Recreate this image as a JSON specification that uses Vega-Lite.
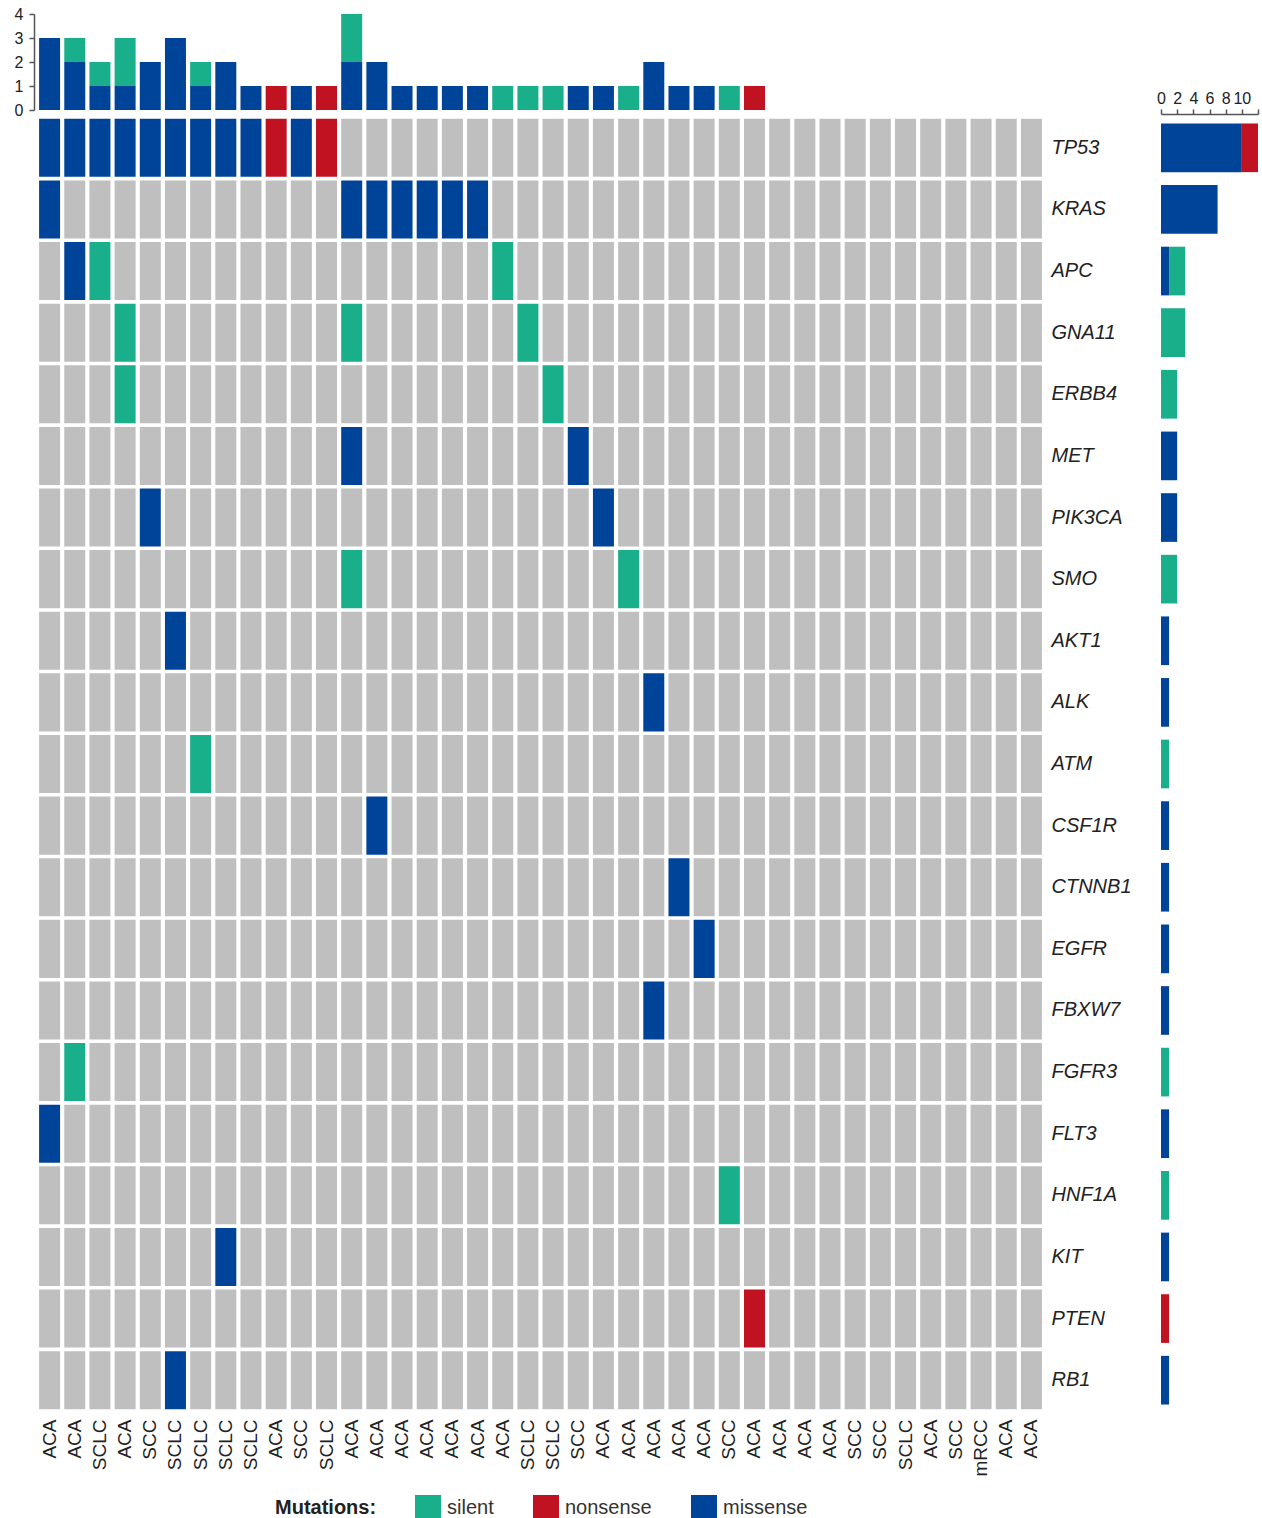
{
  "$schema": "https://vega.github.io/schema/vega-lite/v6.json",
  "padding": {"left": 14, "top": 6, "right": 5, "bottom": 5},
  "background": "white",
  "config": {
    "view": {"stroke": null},
    "font": "Liberation Sans",
    "axis": {"labelFont": "Liberation Sans", "labelColor": "#222", "domainColor": "#555", "tickColor": "#555", "grid": false, "title": null}
  },
  "data": {"values": [
    {"sample": "01 ACA", "TP53": "missense", "KRAS": "missense", "FLT3": "missense"},
    {"sample": "02 ACA", "TP53": "missense", "APC": "missense", "FGFR3": "silent"},
    {"sample": "03 SCLC", "TP53": "missense", "APC": "silent"},
    {"sample": "04 ACA", "TP53": "missense", "GNA11": "silent", "ERBB4": "silent"},
    {"sample": "05 SCC", "TP53": "missense", "PIK3CA": "missense"},
    {"sample": "06 SCLC", "TP53": "missense", "AKT1": "missense", "RB1": "missense"},
    {"sample": "07 SCLC", "TP53": "missense", "ATM": "silent"},
    {"sample": "08 SCLC", "TP53": "missense", "KIT": "missense"},
    {"sample": "09 SCLC", "TP53": "missense"},
    {"sample": "10 ACA", "TP53": "nonsense"},
    {"sample": "11 SCC", "TP53": "missense"},
    {"sample": "12 SCLC", "TP53": "nonsense"},
    {"sample": "13 ACA", "KRAS": "missense", "GNA11": "silent", "MET": "missense", "SMO": "silent"},
    {"sample": "14 ACA", "KRAS": "missense", "CSF1R": "missense"},
    {"sample": "15 ACA", "KRAS": "missense"},
    {"sample": "16 ACA", "KRAS": "missense"},
    {"sample": "17 ACA", "KRAS": "missense"},
    {"sample": "18 ACA", "KRAS": "missense"},
    {"sample": "19 ACA", "APC": "silent"},
    {"sample": "20 SCLC", "GNA11": "silent"},
    {"sample": "21 SCLC", "ERBB4": "silent"},
    {"sample": "22 SCC", "MET": "missense"},
    {"sample": "23 ACA", "PIK3CA": "missense"},
    {"sample": "24 ACA", "SMO": "silent"},
    {"sample": "25 ACA", "ALK": "missense", "FBXW7": "missense"},
    {"sample": "26 ACA", "CTNNB1": "missense"},
    {"sample": "27 ACA", "EGFR": "missense"},
    {"sample": "28 SCC", "HNF1A": "silent"},
    {"sample": "29 ACA", "PTEN": "nonsense"},
    {"sample": "30 ACA"},
    {"sample": "31 ACA"},
    {"sample": "32 ACA"},
    {"sample": "33 SCC"},
    {"sample": "34 SCC"},
    {"sample": "35 SCLC"},
    {"sample": "36 ACA"},
    {"sample": "37 SCC"},
    {"sample": "38 mRCC"},
    {"sample": "39 ACA"},
    {"sample": "40 ACA"}
  ]},
  "transform": [
    {"fold": ["TP53", "KRAS", "APC", "GNA11", "ERBB4", "MET", "PIK3CA", "SMO", "AKT1", "ALK", "ATM", "CSF1R", "CTNNB1", "EGFR", "FBXW7", "FGFR3", "FLT3", "HNF1A", "KIT", "PTEN", "RB1"], "as": ["gene", "mutation"]}
  ],
  "columns": 2,
  "bounds": "flush",
  "align": "each",
  "spacing": {"row": 7, "column": 117},
  "concat": [
    {
      "width": 1007,
      "height": 96,
      "mark": {"type": "bar"},
      "encoding": {
        "x": {"field": "sample", "type": "ordinal", "axis": null, "scale": {"paddingInner": 0.166, "paddingOuter": 0.083}},
        "y": {"aggregate": "valid", "field": "mutation", "type": "quantitative", "scale": {"domain": [0, 4], "nice": false},
              "axis": {"values": [0, 1, 2, 3, 4], "labelFontSize": 16, "tickSize": 5, "offset": 3, "labelPadding": 6, "labelFlush": false, "domainWidth": 1.5, "tickWidth": 1.5}},
        "color": {"condition": {"test": "!isValid(datum.mutation)", "value": "rgba(0,0,0,0)"}, "field": "mutation", "type": "nominal",
                  "scale": {"domain": ["silent", "nonsense", "missense"], "range": ["#1AAF8B", "#C11222", "#00449A"]}},
        "order": {"field": "mutation", "sort": "ascending"}
      }
    },
    {
      "width": 97,
      "height": 96,
      "data": {"values": []},
      "mark": "point",
      "encoding": {}
    },
    {
      "width": 1007,
      "height": 1294,
      "mark": {"type": "rect"},
      "encoding": {
        "x": {"field": "sample", "type": "ordinal", "scale": {"paddingInner": 0.166, "paddingOuter": 0.083},
              "axis": {"labelExpr": "split(datum.label, ' ')[1]", "labelAngle": 270, "labelFontSize": 19, "ticks": false, "domain": false, "labelPadding": 8}},
        "y": {"field": "gene", "type": "nominal", "sort": ["TP53", "KRAS", "APC", "GNA11", "ERBB4", "MET", "PIK3CA", "SMO", "AKT1", "ALK", "ATM", "CSF1R", "CTNNB1", "EGFR", "FBXW7", "FGFR3", "FLT3", "HNF1A", "KIT", "PTEN", "RB1"],
              "scale": {"paddingInner": 0.058, "paddingOuter": 0.029},
              "axis": {"orient": "right", "ticks": false, "domain": false, "labelFontSize": 20, "labelFontStyle": "italic", "labelPadding": 7}},
        "color": {"condition": {"test": "!isValid(datum.mutation)", "value": "#BFBFBF"}, "field": "mutation", "type": "nominal",
                  "scale": {"domain": ["silent", "nonsense", "missense"], "range": ["#1AAF8B", "#C11222", "#00449A"]},
                  "legend": {"title": "Mutations:", "orient": "none", "legendX": 238, "legendY": 1481, "direction": "horizontal",
                             "titleOrient": "left", "titleFontSize": 20, "titleFontWeight": "bold", "titleColor": "#222", "titlePadding": 38,
                             "labelFontSize": 20, "labelColor": "#333", "symbolType": "square", "symbolSize": 676, "symbolStrokeWidth": 0,
                             "symbolOpacity": 1, "columnPadding": 39, "labelOffset": 6}}
      }
    },
    {
      "width": 97,
      "height": 1294,
      "mark": {"type": "bar"},
      "encoding": {
        "y": {"field": "gene", "type": "nominal", "sort": ["TP53", "KRAS", "APC", "GNA11", "ERBB4", "MET", "PIK3CA", "SMO", "AKT1", "ALK", "ATM", "CSF1R", "CTNNB1", "EGFR", "FBXW7", "FGFR3", "FLT3", "HNF1A", "KIT", "PTEN", "RB1"],
              "scale": {"paddingInner": 0.21, "paddingOuter": 0.105}, "axis": null},
        "x": {"aggregate": "valid", "field": "mutation", "type": "quantitative", "scale": {"domain": [0, 12], "nice": false},
              "axis": {"orient": "top", "values": [0, 2, 4, 6, 8, 10, 12], "labelExpr": "datum.value == 12 ? '' : datum.label", "labelFontSize": 16,
                       "tickSize": 5, "offset": 3, "labelPadding": 3, "labelFlush": false, "labelOverlap": false, "domainWidth": 1.5, "tickWidth": 1.5}},
        "color": {"condition": {"test": "!isValid(datum.mutation)", "value": "rgba(0,0,0,0)"}, "field": "mutation", "type": "nominal",
                  "scale": {"domain": ["silent", "nonsense", "missense"], "range": ["#1AAF8B", "#C11222", "#00449A"]}},
        "order": {"field": "mutation", "sort": "ascending"}
      }
    }
  ]
}
